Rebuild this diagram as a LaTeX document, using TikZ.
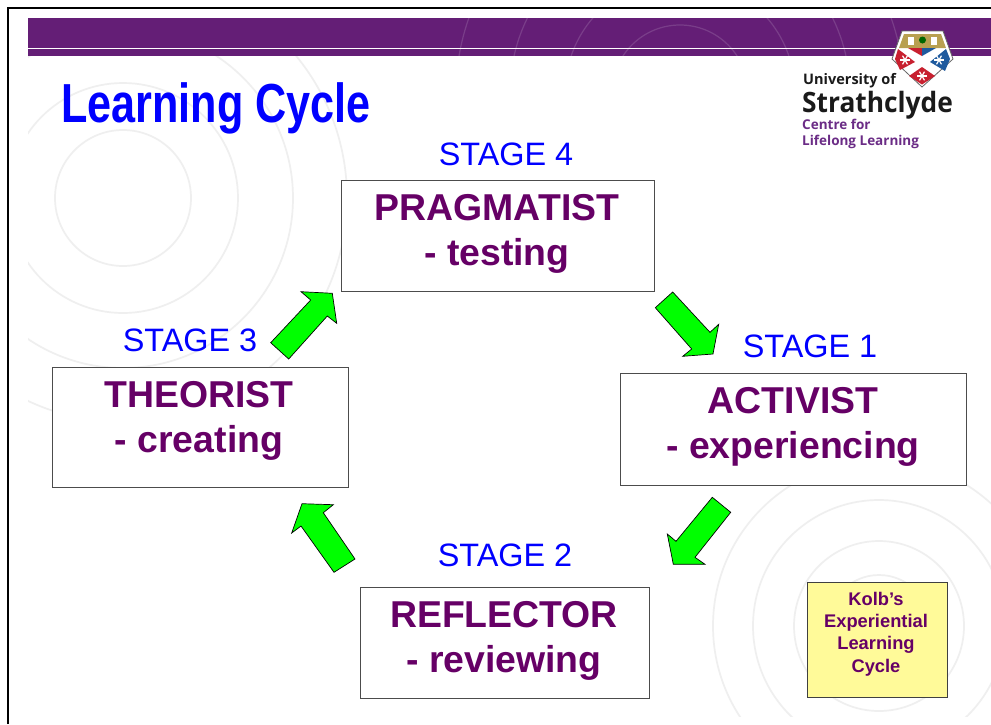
\documentclass[tikz,border=0pt]{standalone}
\usepackage{fontspec}
\setmainfont{Liberation Sans}
\newfontfamily\logofont{Open Sans}
\definecolor{bandpurple}{HTML}{641E76}
\definecolor{boxpurple}{HTML}{660066}
\definecolor{ringgrey}{HTML}{EFEFEF}
\definecolor{logopurple}{HTML}{6B2C86}
\definecolor{logodark}{HTML}{1A1A1A}
\definecolor{shieldtan}{HTML}{B8A050}
\definecolor{shieldred}{HTML}{C8202F}
\definecolor{shieldblue}{HTML}{1F5A9E}
\tikzset{
    ring/.style={draw=ringgrey, line width=1.7pt},
    bandring/.style={draw=white, draw opacity=0.14, line width=1.2pt},
    stagebox/.style={draw=black!70, line width=1.1pt, fill=white, inner sep=0pt, anchor=north west},
    boxtext/.style={text=boxpurple, align=center, inner sep=0pt, font=\fontsize{37.4}{45}\selectfont\bfseries},
    stagename/.style={text=blue, anchor=base, inner sep=0pt, font=\fontsize{32.4}{36}\selectfont},
    greenarrow/.style={draw=black, line width=0.7pt, fill=green, line join=miter},
    logotext/.style={anchor=base west, inner sep=0pt, transform shape},
}
\begin{document}
\begin{tikzpicture}[x=1pt,y=-1pt]
    \useasboundingbox [fill=white] (0,0) rectangle (991,724);

    % rings behind the slide
    \begin{scope}
        \clip (28,56) rectangle (991,716);
        \foreach \r in {68,115,170,224} \draw [ring] (123,198) circle [radius=\r];
        \foreach \r in {51,85,126,166} \draw [ring] (879,626) circle [radius=\r];
    \end{scope}

    % band and frame
    \fill [bandpurple] (28,18) rectangle (991,55.5);
    \begin{scope}
        \clip (28,18) rectangle (991,55.5);
        \foreach \r in {68,115,170,224} \draw [bandring] (680,93) circle [radius=\r];
    \end{scope}
    \draw [white, line width=1pt] (28,48.5) -- (991,48.5);
    \draw [black, line width=2pt] (8,724) -- (8,7.5) -- (991,7.5);

    \node [text=blue, anchor=base west, inner sep=0pt, transform shape, xscale=0.785, font=\fontsize{55}{60}\selectfont\bfseries] (title) at (61,122) {Learning Cycle};

    % logo
    \draw [draw=black!60, fill=white, line width=0.8pt] (902,31) -- (943,31) -- (953,59) -- (922,87) -- (892,59) -- cycle;
    \fill [shieldtan] (904,34) -- (941,34) -- (946,48) -- (899,48) -- cycle;
    \fill [white] (908,37) rectangle (914,45);
    \fill [white] (931,37) rectangle (937,45);
    \fill [black!60!green] (922.5,40) circle [radius=3.5];
    \fill [shieldred] (908,48) -- (922,48) -- (922,56) -- cycle;
    \fill [shieldblue] (922,48) -- (936,48) -- (922,56) -- cycle;
    \fill [shieldred] (898,49) -- (915,62) -- (900,70) -- (895,59) -- cycle;
    \fill [shieldblue] (946,49) -- (930,62) -- (945,71) -- (950,59) -- cycle;
    \fill [shieldred] (922,67) -- (935,76) -- (922,84.5) -- (909,76) -- cycle;
    \foreach \cx/\cy in {905/60, 939/60, 922/76} {
        \foreach \a in {0,60,120} \draw [white, line width=1.2pt] (\cx,\cy) ++(\a:5) -- ++(\a+180:10);
    }
    \node [logotext, text=logodark, font=\logofont\bfseries\fontsize{14.5}{16}\selectfont] (univ) at (803,84) {University of};
    \node [logotext, text=logodark, xscale=0.94, font=\logofont\bfseries\fontsize{28}{30}\selectfont] (strath) at (802,112) {Strathclyde};
    \node [logotext, text=logopurple, font=\logofont\bfseries\fontsize{13.5}{15}\selectfont] (centre) at (802,129) {Centre for};
    \node [logotext, text=logopurple, font=\logofont\bfseries\fontsize{13.5}{15}\selectfont] (lifelong) at (802,145) {Lifelong Learning};

    % stages
    \node [stagename] (S4) at (506,165) {STAGE 4};
    \node [stagename] (S3) at (190,351) {STAGE 3};
    \node [stagename] (S1) at (810,357) {STAGE 1};
    \node [stagename] (S2) at (505,566) {STAGE 2};

    \node [stagebox, minimum width=313pt, minimum height=111pt] (P) at (341,180) {};
    \node [stagebox, minimum width=296pt, minimum height=120pt] (T) at (52,367) {};
    \node [stagebox, minimum width=346pt, minimum height=112pt] (A) at (620,373) {};
    \node [stagebox, minimum width=289pt, minimum height=111pt] (R) at (360,587) {};
    \node [boxtext] (Ptext) at (497,234) {PRAGMATIST\\- testing};
    \node [boxtext] (Ttext) at (199,421) {THEORIST\\- creating};
    \node [boxtext] (Atext) at (793,427) {ACTIVIST\\- experiencing};
    \node [boxtext] (Rtext) at (504,641) {REFLECTOR\\- reviewing};

    \node [draw=black!75, line width=1.1pt, fill=yellow!40!white, anchor=north west, inner sep=0pt, minimum width=140pt, minimum height=115pt] (K) at (807,582) {};
    \node [text=boxpurple, align=center, inner sep=0pt, font=\fontsize{18.3}{22.4}\selectfont\bfseries] (Ktext) at (876,634) {Kolb’s\\Experiential\\Learning\\Cycle};

    % arrows round the cycle
    \draw [greenarrow] (672.7,292) -- (655.3,307.7) -- (691.7,349) -- (682.7,356.3) -- (713,354) -- (718.7,324.3) -- (710,332.3) -- cycle;
    \draw [greenarrow] (712.3,497.3) -- (730.7,512.3) -- (695,557.3) -- (705,564.3) -- (673.3,564.3) -- (667.3,534) -- (676,541.3) -- cycle;
    \draw [greenarrow] (355,559) -- (334,572.3) -- (301,526) -- (291.7,533) -- (302,503.7) -- (333.3,504.7) -- (323.3,512.7) -- cycle;
    \draw [greenarrow] (270.7,342.7) -- (288.7,359) -- (327.3,316) -- (336.7,323.3) -- (332.3,293.3) -- (301,291.7) -- (310.7,300) -- cycle;
\end{tikzpicture}
\end{document}
